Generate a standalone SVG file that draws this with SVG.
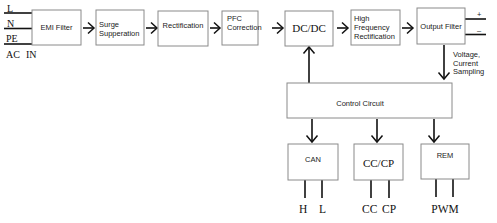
<svg xmlns="http://www.w3.org/2000/svg" width="497" height="223" viewBox="0 0 497 223">
<defs>
<style>
.box{fill:#fff;stroke:#8a8a8a;stroke-width:1}
.ln{stroke:#111;stroke-width:1.6;fill:none}
.ah{stroke:#111;stroke-width:1.5;fill:none}
.s{font-family:"Liberation Sans",Arial,sans-serif;font-size:7.5px;fill:#222}
.r{font-family:"Liberation Serif","Times New Roman",serif;fill:#111}
</style>
</defs>
<rect width="497" height="223" fill="#fff"/>
<g id="connectors">
<line class="ln" x1="4" y1="13" x2="32" y2="13"/>
<line class="ln" x1="4" y1="28.5" x2="32" y2="28.5"/>
<line class="ln" x1="4" y1="44" x2="32" y2="44"/>
<line class="ln" x1="465" y1="19" x2="486" y2="19"/>
<line class="ln" x1="465" y1="34.5" x2="486" y2="34.5"/>
<line class="ln" x1="83" y1="28" x2="94" y2="28"/><polyline class="ah" points="88,22.5 94,28 88,33.5"/>
<line class="ln" x1="146" y1="28" x2="157" y2="28"/><polyline class="ah" points="151,22.5 157,28 151,33.5"/>
<line class="ln" x1="210" y1="28" x2="220" y2="28"/><polyline class="ah" points="214,22.5 220,28 214,33.5"/>
<line class="ln" x1="272" y1="28" x2="283" y2="28"/><polyline class="ah" points="277,22.5 283,28 277,33.5"/>
<line class="ln" x1="337" y1="28" x2="348" y2="28"/><polyline class="ah" points="342,22.5 348,28 342,33.5"/>
<line class="ln" x1="402" y1="28" x2="413" y2="28"/><polyline class="ah" points="407,22.5 413,28 407,33.5"/>
<line class="ln" x1="309" y1="83" x2="309" y2="48"/><polyline class="ah" points="303.5,53.5 309,47 314.5,53.5"/>
<line class="ln" x1="444" y1="45" x2="444" y2="79"/><polyline class="ah" points="438.5,72.5 444,79 449.5,72.5"/>
<line class="ln" x1="312" y1="119" x2="312" y2="142"/><polyline class="ah" points="306.5,135.5 312,142 317.5,135.5"/>
<line class="ln" x1="377" y1="119" x2="377" y2="142"/><polyline class="ah" points="371.5,135.5 377,142 382.5,135.5"/>
<line class="ln" x1="434" y1="119" x2="434" y2="142"/><polyline class="ah" points="428.5,135.5 434,142 439.5,135.5"/>
<line class="ln" x1="305" y1="180" x2="305" y2="198"/>
<line class="ln" x1="322" y1="180" x2="322" y2="198"/>
<line class="ln" x1="371" y1="180" x2="371" y2="198"/>
<line class="ln" x1="389" y1="180" x2="389" y2="198"/>
<line class="ln" x1="436" y1="179" x2="436" y2="197"/>
<line class="ln" x1="453" y1="179" x2="453" y2="197"/>
</g>
<g id="labels">
<text class="r" x="7" y="12" font-size="10">L</text>
<text class="r" x="7" y="27" font-size="10">N</text>
<text class="r" x="6" y="42" font-size="10">PE</text>
<text class="r" x="6" y="58" font-size="10">AC</text>
<text class="r" x="26" y="58" font-size="10">IN</text>
<text class="s" x="477" y="17">+</text>
<text class="s" x="477" y="33">–</text>
<text class="s" x="453" y="57">Voltage,</text>
<text class="s" x="453" y="65.5">Current</text>
<text class="s" x="453" y="74">Sampling</text>
<text class="r" x="299" y="213" font-size="11.5">H</text>
<text class="r" x="319" y="213" font-size="11.5">L</text>
<text class="r" x="362" y="213" font-size="11.5">CC</text>
<text class="r" x="382" y="213" font-size="11.5">CP</text>
<text class="r" x="445" y="213" font-size="11.5" text-anchor="middle">PWM</text>
</g>
<g id="emi"><rect class="box" x="32" y="10" width="49" height="35"/><text class="s" x="56.5" y="29.5" text-anchor="middle">EMI Filter</text></g>
<g id="surge"><rect class="box" x="96" y="10" width="48" height="35"/><text class="s" x="99" y="27">Surge</text><text class="s" x="99" y="36">Supperation</text></g>
<g id="rect"><rect class="box" x="158" y="11" width="50" height="35"/><text class="s" x="183" y="27.5" text-anchor="middle">Rectification</text></g>
<g id="pfc"><rect class="box" x="222" y="11" width="36" height="34"/><text class="s" x="227" y="21">PFC</text><text class="s" x="227" y="30">Correction</text></g>
<g id="dcdc"><rect class="box" x="285" y="11" width="48" height="35"/><text class="r" x="309" y="32" font-size="11" text-anchor="middle">DC/DC</text></g>
<g id="hfr"><rect class="box" x="351" y="10" width="49" height="35"/><text class="s" x="354" y="21">High</text><text class="s" x="354" y="30">Frequency</text><text class="s" x="354" y="39">Rectification</text></g>
<g id="outfilter"><rect class="box" x="417" y="8" width="48" height="36"/><text class="s" x="441" y="29" text-anchor="middle">Output Filter</text></g>
<g id="control"><rect class="box" x="287" y="83" width="165" height="35"/><text class="s" x="360" y="106" font-size="8" text-anchor="middle">Control Circuit</text></g>
<g id="can"><rect class="box" x="288" y="144" width="50" height="36"/><text class="s" x="313" y="162" text-anchor="middle">CAN</text></g>
<g id="cccp"><rect class="box" x="354" y="144" width="49" height="36"/><text class="r" x="378.5" y="167" font-size="11" text-anchor="middle">CC/CP</text></g>
<g id="rem"><rect class="box" x="421" y="144" width="48" height="35"/><text class="s" x="445" y="158" text-anchor="middle">REM</text></g>
</svg>
